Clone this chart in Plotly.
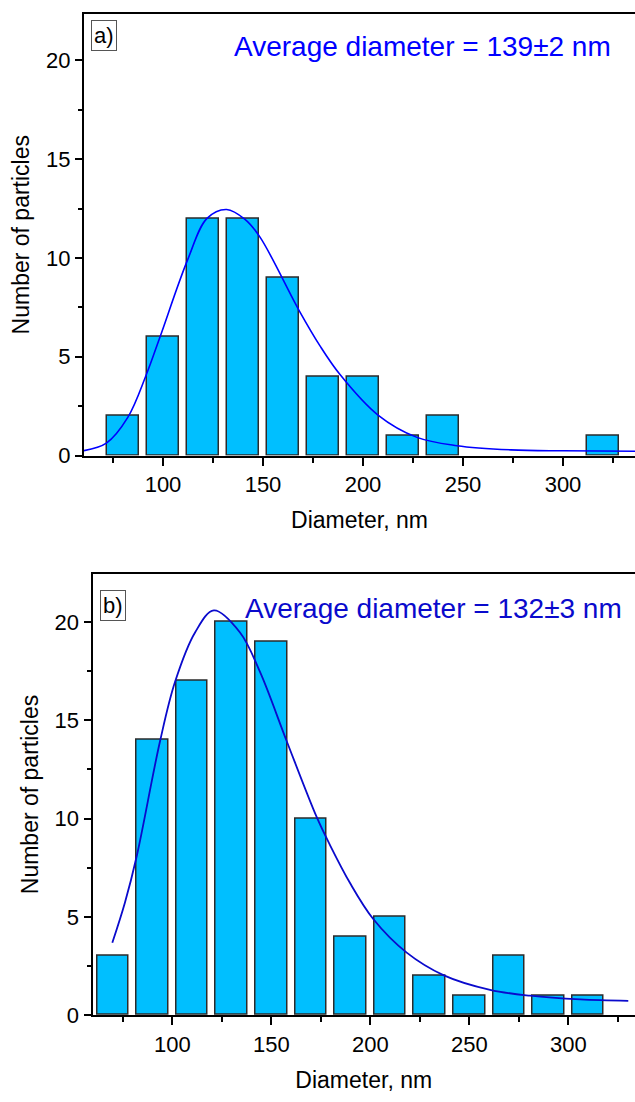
import plotly.graph_objects as go

# ---- panel a) histogram ----
bins_a = [80, 100, 120, 140, 160, 180, 200, 220, 240, 260, 280, 300, 320]
counts_a = [2, 6, 12, 12, 9, 4, 4, 1, 2, 0, 0, 0, 1]
fit_x_a = [60.5, 71.7, 82.4, 91.5, 98.5, 112.3, 122, 131.8, 141, 148.5, 168, 178.5,
           188.5, 207.5, 227, 247, 274, 300, 336]
fit_y_a = [0.25, 0.63, 1.93, 4.05, 6.0, 9.9, 12.0, 12.45, 11.95, 11.05, 7.35, 5.55,
           4.1, 2.05, 0.92, 0.5, 0.29, 0.24, 0.22]
label_a = "Average diameter = 139±2 nm"

# ---- panel b) histogram ----
bins_b = [70, 90, 110, 130, 150, 170, 190, 210, 230, 250, 270, 290, 310]
counts_b = [3, 14, 17, 20, 19, 10, 4, 5, 2, 1, 3, 1, 1]
fit_x_b = [69.7, 76.1, 82, 93.8, 101.4, 111.5, 121, 134.2, 144.3, 157.8, 172.9, 179.6,
           189.7, 201.5, 218.4, 236.9, 260.5, 280.7, 306, 330.3]
fit_y_b = [3.68, 5.73, 8.07, 13.93, 16.95, 19.46, 20.58, 19.46, 17.45, 13.93, 10.08, 8.66,
           6.73, 4.89, 3.18, 2.04, 1.29, 0.99, 0.80, 0.73]
label_b = "Average diameter = 132±3 nm"

W, H = 635, 1102
FONT = "Arial, Liberation Sans, sans-serif"
BAR_COLOR = "#00BFFF"
BAR_EDGE = "#2b2b2b"


def nonempty(bins, counts):
    # empty bins are not drawn as bars
    pairs = [(b, c) for b, c in zip(bins, counts) if c > 0]
    return [p[0] for p in pairs], [p[1] for p in pairs]


fig = go.Figure()

xa, ya = nonempty(bins_a, counts_a)
fig.add_trace(go.Bar(x=xa, y=ya, width=16, marker=dict(color=BAR_COLOR,
              line=dict(color=BAR_EDGE, width=1.5)), xaxis="x", yaxis="y", showlegend=False))
fig.add_trace(go.Scatter(x=fit_x_a, y=fit_y_a, mode="lines",
              line=dict(color="#0000FF", width=1.6, shape="spline", smoothing=1),
              xaxis="x", yaxis="y", showlegend=False))

xb, yb = nonempty(bins_b, counts_b)
fig.add_trace(go.Bar(x=xb, y=yb, width=16, marker=dict(color=BAR_COLOR,
              line=dict(color=BAR_EDGE, width=1.5)), xaxis="x2", yaxis="y2", showlegend=False))
fig.add_trace(go.Scatter(x=fit_x_b, y=fit_y_b, mode="lines",
              line=dict(color="#0A0ACC", width=1.8, shape="spline", smoothing=1),
              xaxis="x2", yaxis="y2", showlegend=False))


def px_x(p):
    return p / W


def px_y(p):
    return 1 - p / H


def xaxis(domain, rng, anchor):
    return dict(domain=domain, range=rng, anchor=anchor, tickmode="linear", tick0=0, dtick=50,
                ticks="outside", ticklen=8, tickwidth=1.6, tickcolor="black",
                minor=dict(dtick=25, tick0=0, ticks="outside", ticklen=5, tickwidth=1.6,
                           tickcolor="black"),
                showline=True, linecolor="black", linewidth=2, mirror=True,
                showgrid=False, zeroline=False,
                tickfont=dict(family=FONT, size=22, color="black"),
                title=dict(text="Diameter, nm", font=dict(family=FONT, size=23, color="black"),
                           standoff=16))


def yaxis(domain, rng, anchor):
    return dict(domain=domain, range=rng, anchor=anchor, tickmode="linear", tick0=0, dtick=5,
                ticks="outside", ticklen=7, tickwidth=1.6, tickcolor="black",
                minor=dict(dtick=2.5, tick0=0, ticks="outside", ticklen=4, tickwidth=1.6,
                           tickcolor="black"),
                showline=True, linecolor="black", linewidth=2, mirror=False,
                showgrid=False, zeroline=False,
                tickfont=dict(family=FONT, size=22, color="black"),
                title=dict(text="Number of particles", font=dict(family=FONT, size=23, color="black"),
                           standoff=10))


fig.update_layout(
    width=W, height=H,
    margin=dict(l=0, r=0, t=0, b=0),
    paper_bgcolor="white", plot_bgcolor="white",
    bargap=0,
    xaxis=xaxis([px_x(84), 1], [60.5, 336], "y"),
    yaxis=yaxis([px_y(461), px_y(14)], [0, 22.35], "x"),
    xaxis2=xaxis([px_x(92.5), 1], [59.7, 333.7], "y2"),
    yaxis2=yaxis([px_y(1027.3), px_y(580.7)], [0, 22.44], "x2"),
    annotations=[
        dict(text="a)", x=px_x(91), y=px_y(20), xref="paper", yref="paper",
             xanchor="left", yanchor="top", showarrow=False,
             font=dict(family=FONT, size=22, color="black"),
             bordercolor="#555555", borderwidth=1, borderpad=2),
        dict(text="b)", x=px_x(100), y=px_y(597), xref="paper", yref="paper",
             xanchor="left", yanchor="top", showarrow=False,
             font=dict(family=FONT, size=22, color="black"),
             bordercolor="#555555", borderwidth=1, borderpad=2),
        dict(text=label_a, x=px_x(232), y=px_y(47), xref="paper", yref="paper",
             xanchor="left", yanchor="middle", showarrow=False,
             font=dict(family=FONT, size=28, color="#0000FF")),
        dict(text=label_b, x=px_x(243), y=px_y(615.5), xref="paper", yref="paper",
             xanchor="left", yanchor="middle", showarrow=False,
             font=dict(family=FONT, size=28, color="#0A0ACC")),
    ],
)

fig.write_html("out.html")
